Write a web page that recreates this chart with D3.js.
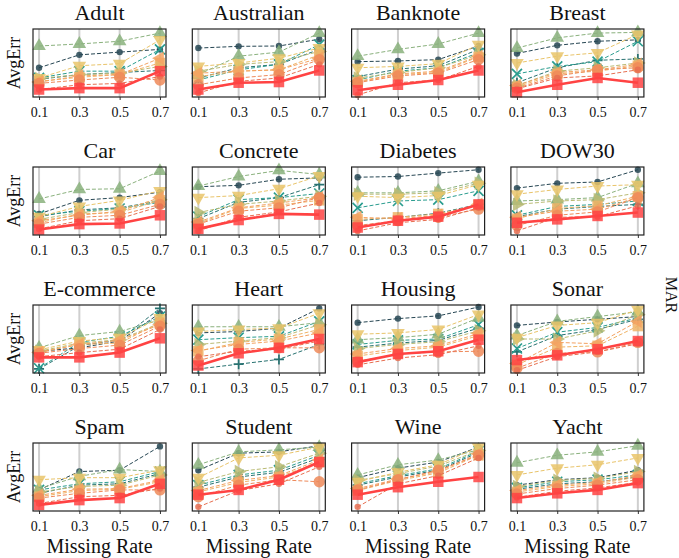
<!DOCTYPE html>
<html>
<head>
<meta charset="utf-8">
<title>AvgErr vs Missing Rate (MAR)</title>
<style>
body { margin: 0; background: #fff; }
svg { display: block; }
.grid line { stroke: #cfcfcf; stroke-width: 2; }
.frame { fill: none; stroke: #222; stroke-width: 1.2; }
.axis path { display: none; }
.axis line { stroke: #333; }
</style>
<script src="https://cdn.jsdelivr.net/npm/d3@7"></script>
</head>
<body>
<svg id="chart" width="679" height="558"></svg>
<script>
// x values and panels
var missingRates = [0.1, 0.3, 0.5, 0.7];
var datasets = ["Adult", "Australian", "Banknote", "Breast",
	"Car", "Concrete", "Diabetes", "DOW30",
	"E-commerce", "Heart", "Housing", "Sonar",
	"Spam", "Student", "Wine", "Yacht"];

// one row per method, same order as below (last one is ours, drawn on top)
var methods = ["B1", "B2", "B3", "B4", "B5", "B6", "B7", "B8", "B9", "B10", "Ours"];
var colors = ["#264653", "#287271", "#2a9d8f", "#8ab17d", "#babb74",
	"#e9c46a", "#efb366", "#f4a261", "#ee8959", "#e76f51", "#ff4343"];
var markers = ["circle-s", "plus", "x", "tri-up", "tri-right",
	"tri-down", "square", "tri-left", "circle", "circle-s", "square"];

// AvgErr, relative position inside each panel (0 = bottom, 1 = top)
var adult = [
	[0.43, 0.62, 0.66, 0.70], [0.26, 0.33, 0.36, 0.39], [0.28, 0.38, 0.38, 0.70],
	[0.75, 0.78, 0.82, 0.94], [0.27, 0.33, 0.35, 0.45], [0.28, 0.46, 0.49, 0.84],
	[0.23, 0.29, 0.33, 0.50], [0.22, 0.31, 0.33, 0.57], [0.20, 0.25, 0.29, 0.25],
	[0.11, 0.18, 0.20, 0.30], [0.11, 0.13, 0.13, 0.38]];
var australian = [
	[0.72, 0.745, 0.75, 0.85], [0.28, 0.43, 0.48, 0.70], [0.25, 0.40, 0.48, 0.77],
	[0.33, 0.60, 0.66, 0.94], [0.38, 0.48, 0.52, 0.67], [0.45, 0.50, 0.57, 0.72],
	[0.30, 0.38, 0.40, 0.62], [0.35, 0.38, 0.40, 0.57], [0.18, 0.28, 0.33, 0.55],
	[0.06, 0.23, 0.28, 0.48], [0.11, 0.21, 0.22, 0.39]];
var banknote = [
	[0.52, 0.53, 0.55, 0.75], [0.30, 0.41, 0.46, 0.70], [0.25, 0.38, 0.43, 0.65],
	[0.60, 0.70, 0.78, 0.94], [0.28, 0.36, 0.43, 0.62], [0.43, 0.45, 0.49, 0.77],
	[0.22, 0.33, 0.36, 0.59], [0.23, 0.34, 0.38, 0.60], [0.21, 0.31, 0.35, 0.55],
	[0.03, 0.21, 0.25, 0.45], [0.10, 0.18, 0.25, 0.39]];
var breast = [
	[0.64, 0.76, 0.82, 0.84], [0.21, 0.43, 0.54, 0.56], [0.34, 0.45, 0.52, 0.82],
	[0.72, 0.87, 0.94, 0.95], [0.17, 0.38, 0.43, 0.50], [0.50, 0.60, 0.65, 0.92],
	[0.15, 0.34, 0.38, 0.46], [0.17, 0.36, 0.40, 0.48], [0.13, 0.31, 0.40, 0.43],
	[0.12, 0.28, 0.31, 0.40], [0.07, 0.18, 0.28, 0.21]];
var car = [
	[0.31, 0.51, 0.55, 0.63], [0.27, 0.37, 0.40, 0.50], [0.29, 0.35, 0.39, 0.48],
	[0.53, 0.67, 0.68, 0.94], [0.23, 0.33, 0.38, 0.52], [0.27, 0.42, 0.51, 0.65],
	[0.18, 0.31, 0.33, 0.51], [0.21, 0.29, 0.35, 0.55], [0.16, 0.26, 0.29, 0.45],
	[0.09, 0.21, 0.24, 0.42], [0.08, 0.16, 0.17, 0.29]];
var concrete = [
	[0.71, 0.73, 0.82, 0.84], [0.24, 0.48, 0.55, 0.74], [0.27, 0.52, 0.55, 0.61],
	[0.72, 0.86, 0.95, 0.89], [0.33, 0.45, 0.50, 0.57], [0.55, 0.58, 0.68, 0.87],
	[0.17, 0.39, 0.44, 0.51], [0.19, 0.40, 0.47, 0.55], [0.16, 0.35, 0.40, 0.55],
	[0.06, 0.26, 0.34, 0.47], [0.09, 0.22, 0.31, 0.30]];
var diabetes = [
	[0.85, 0.86, 0.91, 0.96], [0.21, 0.26, 0.32, 0.45], [0.40, 0.50, 0.52, 0.65],
	[0.62, 0.62, 0.65, 0.79], [0.60, 0.60, 0.62, 0.76], [0.57, 0.55, 0.58, 0.74],
	[0.23, 0.26, 0.31, 0.44], [0.26, 0.24, 0.29, 0.45], [0.14, 0.21, 0.26, 0.38],
	[0.06, 0.18, 0.23, 0.40], [0.11, 0.21, 0.27, 0.45]];
var dow30 = [
	[0.69, 0.76, 0.78, 0.96], [0.27, 0.38, 0.42, 0.45], [0.29, 0.42, 0.45, 0.50],
	[0.50, 0.52, 0.55, 0.76], [0.45, 0.50, 0.52, 0.62], [0.60, 0.67, 0.72, 0.74],
	[0.24, 0.39, 0.43, 0.57], [0.26, 0.35, 0.38, 0.55], [0.14, 0.29, 0.34, 0.55],
	[0.06, 0.26, 0.27, 0.43], [0.18, 0.23, 0.28, 0.33]];
var ecommerce = [
	[0.32, 0.37, 0.47, 0.88], [0.06, 0.40, 0.49, 0.95], [0.07, 0.45, 0.54, 0.83],
	[0.37, 0.55, 0.61, 0.78], [0.32, 0.44, 0.49, 0.73], [0.34, 0.47, 0.52, 0.81],
	[0.31, 0.42, 0.44, 0.74], [0.30, 0.42, 0.48, 0.71], [0.29, 0.36, 0.41, 0.69],
	[0.24, 0.30, 0.35, 0.64], [0.23, 0.23, 0.30, 0.51]];
var heart = [
	[0.59, 0.61, 0.66, 0.95], [0.06, 0.13, 0.20, 0.42], [0.49, 0.52, 0.54, 0.76],
	[0.68, 0.68, 0.68, 0.74], [0.42, 0.47, 0.52, 0.71], [0.61, 0.64, 0.66, 0.88],
	[0.32, 0.45, 0.50, 0.64], [0.33, 0.42, 0.47, 0.59], [0.18, 0.35, 0.37, 0.37],
	[0.24, 0.32, 0.35, 0.47], [0.11, 0.29, 0.37, 0.50]];
var housing = [
	[0.74, 0.80, 0.84, 0.97], [0.38, 0.44, 0.48, 0.66], [0.42, 0.48, 0.50, 0.71],
	[0.49, 0.52, 0.57, 0.81], [0.36, 0.42, 0.46, 0.62], [0.57, 0.59, 0.64, 0.86],
	[0.25, 0.33, 0.38, 0.55], [0.28, 0.36, 0.40, 0.58], [0.17, 0.28, 0.31, 0.32],
	[0.12, 0.22, 0.27, 0.40], [0.16, 0.28, 0.32, 0.49]];
var sonar = [
	[0.70, 0.75, 0.79, 0.83], [0.31, 0.55, 0.64, 0.79], [0.36, 0.60, 0.67, 0.81],
	[0.55, 0.76, 0.83, 0.90], [0.50, 0.50, 0.62, 0.86], [0.52, 0.70, 0.74, 0.93],
	[0.12, 0.38, 0.40, 0.69], [0.14, 0.45, 0.43, 0.76], [0.07, 0.29, 0.31, 0.45],
	[0.04, 0.24, 0.31, 0.43], [0.19, 0.26, 0.35, 0.47]];
var spam = [
	[0.31, 0.58, 0.60, 0.95], [0.26, 0.38, 0.40, 0.55], [0.31, 0.40, 0.43, 0.58],
	[0.33, 0.51, 0.61, 0.58], [0.28, 0.36, 0.38, 0.53], [0.46, 0.49, 0.49, 0.60],
	[0.21, 0.30, 0.32, 0.43], [0.23, 0.32, 0.33, 0.45], [0.19, 0.26, 0.31, 0.31],
	[0.11, 0.21, 0.23, 0.33], [0.09, 0.16, 0.19, 0.40]];
var student = [
	[0.60, 0.85, 0.87, 0.96], [0.35, 0.50, 0.57, 0.78], [0.38, 0.53, 0.60, 0.82],
	[0.68, 0.87, 0.90, 0.94], [0.42, 0.58, 0.65, 0.85], [0.49, 0.78, 0.82, 0.94],
	[0.28, 0.42, 0.50, 0.72], [0.30, 0.45, 0.52, 0.75], [0.21, 0.38, 0.46, 0.43],
	[0.06, 0.30, 0.40, 0.65], [0.24, 0.31, 0.46, 0.72]];
var wine = [
	[0.49, 0.63, 0.72, 0.94], [0.38, 0.50, 0.60, 0.86], [0.40, 0.52, 0.62, 0.88],
	[0.53, 0.68, 0.75, 0.90], [0.45, 0.55, 0.66, 0.89], [0.43, 0.57, 0.68, 0.94],
	[0.30, 0.45, 0.56, 0.82], [0.33, 0.47, 0.58, 0.84], [0.31, 0.46, 0.60, 0.82],
	[0.06, 0.40, 0.52, 0.78], [0.24, 0.35, 0.43, 0.50]];
var yacht = [
	[0.38, 0.46, 0.49, 0.60], [0.32, 0.40, 0.43, 0.50], [0.34, 0.43, 0.46, 0.53],
	[0.71, 0.82, 0.87, 0.96], [0.36, 0.45, 0.48, 0.58], [0.53, 0.63, 0.68, 0.78],
	[0.28, 0.36, 0.40, 0.50], [0.30, 0.38, 0.42, 0.52], [0.25, 0.33, 0.38, 0.46],
	[0.20, 0.29, 0.34, 0.42], [0.19, 0.26, 0.31, 0.41]];

var panelValues = [adult, australian, banknote, breast, car, concrete, diabetes, dow30,
	ecommerce, heart, housing, sonar, spam, student, wine, yacht];

var serif = '"Liberation Serif", "Times New Roman", Tinos, serif';

var left0 = 33, colStep = 159.3, top0 = 29, rowStep = 138,
	plotW = 133, plotH = 68;

var svg = d3.select('#chart');

var x = d3.scaleLinear().domain([0.07, 0.73]).range([0, plotW]);
var y = d3.scaleLinear().domain([0, 1]).range([plotH, 0]);

var markerStyle = {
	'circle-s':	{ sym: d3.symbolCircle, size: 32 },
	'circle':	{ sym: d3.symbolCircle, size: 100 },
	'square':	{ sym: d3.symbolSquare, size: 110 },
	'tri-up':	{ sym: d3.symbolTriangle, size: 80, rot: 0 },
	'tri-down':	{ sym: d3.symbolTriangle, size: 80, rot: 180 },
	'tri-left':	{ sym: d3.symbolTriangle, size: 80, rot: -90 },
	'tri-right':	{ sym: d3.symbolTriangle, size: 80, rot: 90 }
};

function drawMarker (g, kind, color, px, py) {
	if (kind === 'plus' || kind === 'x') {
		var r = 5;
		var d = kind === 'plus'
			? 'M' + (-r) + ',0H' + r + 'M0,' + (-r) + 'V' + r
			: 'M' + (-r) + ',' + (-r) + 'L' + r + ',' + r + 'M' + (-r) + ',' + r + 'L' + r + ',' + (-r);
		g.append('path')
			.attr('d', d)
			.attr('transform', 'translate(' + px + ',' + py + ')')
			.attr('stroke', color)
			.attr('stroke-width', 1.7)
			.attr('fill', 'none');
		return;
	}
	var s = markerStyle[kind];
	g.append('path')
		.attr('d', d3.symbol(s.sym, s.size)())
		.attr('transform', 'translate(' + px + ',' + py + ') rotate(' + (s.rot || 0) + ')')
		.attr('fill', color)
		.attr('fill-opacity', 0.85);
}

var line = d3.line()
	.x(function (d, i) { return x(missingRates[i]); })
	.y(function (d) { return y(d); });

datasets.forEach(function (name, k) {
	var col = k % 4, row = Math.floor(k / 4);
	var g = svg.append('g')
		.attr('transform', 'translate(' + (left0 + col * colStep) + ',' + (top0 + row * rowStep) + ')');

	// vertical grid
	g.append('g').attr('class', 'grid')
		.selectAll('line').data(missingRates).enter().append('line')
		.attr('x1', function (d) { return x(d); })
		.attr('x2', function (d) { return x(d); })
		.attr('y1', 0).attr('y2', plotH);

	var ax = g.append('g').attr('class', 'axis')
		.attr('transform', 'translate(0,' + plotH + ')')
		.call(d3.axisBottom(x).tickValues(missingRates).tickFormat(d3.format('.1f')).tickSize(3).tickPadding(7));
	ax.selectAll('text')
		.style('font-family', serif)
		.style('font-size', '14px')
		.style('fill', '#111');

	var vals = panelValues[k];
	vals.forEach(function (series, m) {
		var ours = m === methods.length - 1;
		g.append('path')
			.datum(series)
			.attr('d', line)
			.attr('fill', 'none')
			.attr('stroke', colors[m])
			.attr('stroke-width', ours ? 2.6 : 1)
			.attr('stroke-dasharray', ours ? null : '4,2');
		series.forEach(function (v, i) {
			drawMarker(g, markers[m], colors[m], x(missingRates[i]), y(v));
		});
	});

	g.append('rect').attr('class', 'frame')
		.attr('width', plotW).attr('height', plotH);

	g.append('text')
		.attr('x', plotW / 2).attr('y', -9)
		.attr('text-anchor', 'middle')
		.style('font-family', serif)
		.style('font-size', '22px')
		.style('fill', '#111')
		.text(name);

	if (col === 0) {
		g.append('text')
			.attr('transform', 'translate(-13,' + (plotH / 2) + ') rotate(-90)')
			.attr('text-anchor', 'middle')
			.style('font-family', serif)
			.style('font-size', '18px')
			.style('fill', '#111')
			.text('AvgErr');
	}
	if (row === 3) {
		g.append('text')
			.attr('x', plotW / 2).attr('y', plotH + 42)
			.attr('text-anchor', 'middle')
			.style('font-family', serif)
			.style('font-size', '20px')
			.style('fill', '#111')
			.text('Missing Rate');
	}
});

svg.append('text')
	.attr('transform', 'translate(666,295) rotate(90)')
	.attr('text-anchor', 'middle')
	.style('font-family', serif)
	.style('font-size', '16px')
	.style('fill', '#111')
	.text('MAR');
</script>
</body>
</html>
